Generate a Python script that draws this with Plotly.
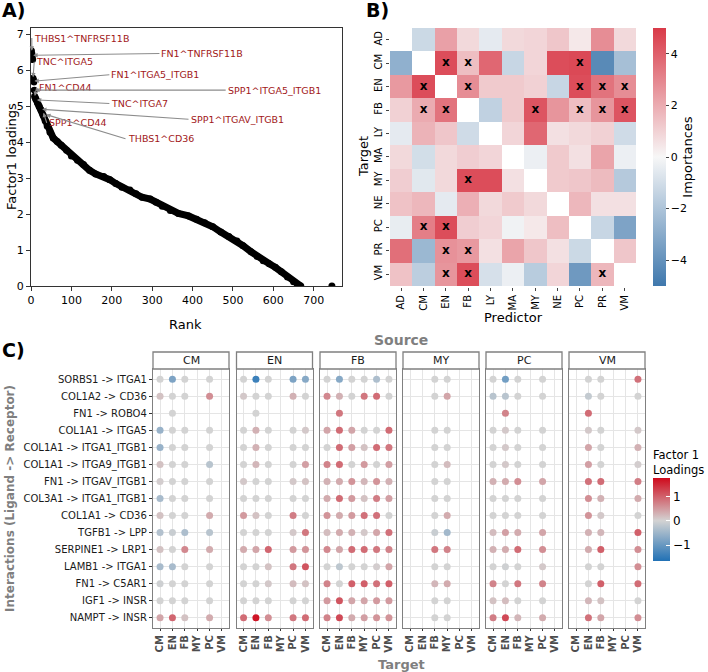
import plotly.graph_objects as go

W, H = 708, 672
FONT = "DejaVu Sans"


def px(x):
    return x / W


def py(y):
    return 1 - y / H


# ---------------- Panel A data ----------------
rank_top = [1, 2, 3, 4, 5, 6, 7, 8]
load_top = [6.55, 6.47, 6.38, 6.3, 5.78, 5.73, 5.68, 5.45]
rank_curve = [9, 12, 16, 20, 25, 30, 35, 40, 47, 55, 65, 75, 88, 100, 115, 130, 145, 160, 180,
              195, 210, 225, 245, 260, 275, 295, 310, 325, 345, 365, 390, 410, 430, 450, 470,
              490, 510, 525, 545, 560, 575, 590, 605, 620, 635, 650, 660, 668]
load_curve = [5.28, 5.2, 5.1, 5.0, 4.9, 4.75, 4.6, 4.45, 4.28, 4.12, 4.02, 3.92, 3.78, 3.62, 3.5,
              3.38, 3.22, 3.12, 3.05, 2.96, 2.85, 2.75, 2.67, 2.57, 2.47, 2.42, 2.33, 2.22, 2.1,
              2.02, 1.95, 1.86, 1.76, 1.65, 1.5, 1.38, 1.25, 1.12, 0.95, 0.82, 0.7, 0.62, 0.52,
              0.4, 0.25, 0.12, 0.03, 0.0]
rank_tail = [745]
load_tail = [0.0]

label_names = ["THBS1^TNFRSF11B", "FN1^TNFRSF11B", "TNC^ITGA5", "FN1^ITGA5_ITGB1", "FN1^CD44",
               "SPP1^ITGA5_ITGB1", "TNC^ITGA7", "SPP1^ITGAV_ITGB1", "SPP1^CD44", "THBS1^CD36"]
label_rank = [2, 3, 5, 6, 9, 8, 12, 25, 30, 35]
label_load = [6.52, 6.42, 5.78, 5.7, 5.26, 5.45, 5.18, 4.92, 4.85, 4.78]
# left edge (rank) and vertical centre (loading) of each label's text
label_text_rank = [2, 318, 8, 194, 14, 482, 194, 390, 39, 234]
label_text_load = [6.9, 6.47, 6.24, 5.88, 5.52, 5.45, 5.08, 4.64, 4.54, 4.1]

# ---------------- Panel B data ----------------
cell_types = ["AD", "CM", "EN", "FB", "LY", "MA", "MY", "NE", "PC", "PR", "VM"]
importances = [
    [None, -1.2, 2.3, 0.8, -0.5, 0.8, 0.9, 1.3, 0.4, 2.8, 0.8],
    [-2.8, None, 4.5, 1.5, 3.8, -1.3, 0.9, 4.5, 4.6, -4.3, -2.2],
    [2.5, 4.5, None, 2.8, 1.2, 1.2, 1.0, -1.3, 4.5, 3.5, 2.8],
    [1.0, 2.0, 3.5, None, -1.5, 1.2, 4.3, 2.6, 1.5, 2.6, 4.3],
    [-0.5, 1.8, 1.3, -1.1, None, 0.9, 3.8, 0.6, 0.8, 1.0, -1.1],
    [0.8, -1.0, 0.8, 1.1, 0.9, None, -0.3, 1.2, 0.6, 2.2, -0.3],
    [1.1, -0.6, 0.8, 4.5, 4.5, 0.6, None, 1.2, 1.3, 1.6, -1.8],
    [1.4, 1.7, -0.5, 1.9, 0.8, 1.2, 0.8, None, 1.7, 0.6, 0.6],
    [-0.4, 3.2, 4.5, 1.1, 0.9, -0.2, 0.4, 1.5, None, -1.3, -3.3],
    [3.6, -2.5, 2.7, 2.5, 0.6, 2.2, 1.3, 0.6, -1.2, None, 1.3],
    [1.4, -1.6, 2.6, 4.5, -0.9, -0.3, -1.7, 0.9, -3.7, 1.7, None],
]
significant = [
    [0, 0, 0, 0, 0, 0, 0, 0, 0, 0, 0],
    [0, 0, 1, 1, 0, 0, 0, 0, 1, 0, 0],
    [0, 1, 0, 1, 0, 0, 0, 0, 1, 1, 1],
    [0, 1, 1, 0, 0, 0, 1, 0, 1, 1, 1],
    [0, 0, 0, 0, 0, 0, 0, 0, 0, 0, 0],
    [0, 0, 0, 0, 0, 0, 0, 0, 0, 0, 0],
    [0, 0, 0, 1, 0, 0, 0, 0, 0, 0, 0],
    [0, 0, 0, 0, 0, 0, 0, 0, 0, 0, 0],
    [0, 1, 1, 0, 0, 0, 0, 0, 0, 0, 0],
    [0, 0, 1, 1, 0, 0, 0, 0, 0, 0, 0],
    [0, 0, 1, 1, 0, 0, 0, 0, 0, 1, 0],
]

# ---------------- Panel C data ----------------
sources = ["CM", "EN", "FB", "MY", "PC", "VM"]
targets = ["CM", "EN", "FB", "MY", "PC", "VM"]
interactions = ["SORBS1 -> ITGA1", "COL1A2 -> CD36", "FN1 -> ROBO4", "COL1A1 -> ITGA5",
                "COL1A1 -> ITGA1_ITGB1", "COL1A1 -> ITGA9_ITGB1", "FN1 -> ITGAV_ITGB1",
                "COL3A1 -> ITGA1_ITGB1", "COL1A1 -> CD36", "TGFB1 -> LPP", "SERPINE1 -> LRP1",
                "LAMB1 -> ITGA1", "FN1 -> C5AR1", "IGF1 -> INSR", "NAMPT -> INSR"]
N = None
loadings_CM = [
    [0.0, -0.8, 0.0, N, 0.0, N], [0.15, 0.0, 0.0, N, 0.6, N], [N, 0.0, N, N, N, N],
    [-0.55, 0.0, 0.0, N, 0.0, N], [-0.55, 0.0, 0.0, N, 0.0, N], [0.15, 0.0, 0.0, N, -0.25, N],
    [0.05, 0.0, 0.0, N, 0.0, N], [-0.4, 0.0, 0.0, N, 0.0, N], [0.15, 0.0, 0.0, N, 0.35, N],
    [-0.3, -0.1, -0.35, N, -0.25, N], [0.15, 0.0, 0.65, N, 0.35, N], [-0.4, -0.4, 0.0, N, 0.0, N],
    [-0.05, 0.0, 0.0, N, 0.0, N], [0.0, 0.0, 0.0, N, 0.0, N], [0.4, 0.95, 0.15, N, 0.35, N],
]
loadings_EN = [
    [0.0, -1.4, 0.0, N, -0.8, -0.7], [0.1, 0.0, 0.0, N, 0.3, 0.0], [N, 0.0, N, N, N, N],
    [0.0, 0.3, 0.0, N, 0.0, 0.1], [0.0, 0.3, 0.0, N, 0.0, 0.0], [0.0, 0.25, 0.0, N, 0.0, 0.45],
    [0.1, 0.0, 0.0, N, 0.1, 0.15], [0.0, 0.0, 0.0, N, 0.0, 0.0], [0.5, 0.15, 0.0, N, 0.75, 0.0],
    [0.0, 0.0, 0.0, N, 0.1, 0.8], [0.35, 0.4, 0.95, N, 0.5, 0.55], [0.0, 0.0, 0.15, N, 0.8, 1.1],
    [0.0, 0.0, 0.1, N, 0.2, 0.15], [0.0, 0.0, 0.0, N, 0.0, 0.0], [0.9, 1.65, 0.6, N, 0.8, 0.9],
]
loadings_FB = [
    [0.0, -0.7, 0.0, 0.0, -0.35, 0.0], [0.65, 0.3, 0.0, 0.8, 0.9, 0.0], [N, 0.8, N, N, N, N],
    [0.4, 0.9, 0.4, 0.0, 0.0, 0.9], [0.0, 0.9, 0.45, 0.15, 0.9, 0.8], [0.7, 0.9, 0.0, 0.5, 0.0, 0.45],
    [0.3, 0.35, 0.55, 0.25, 0.55, 0.3], [0.35, 0.9, 0.5, 0.15, 0.75, 0.45],
    [0.55, 0.35, 0.5, 0.85, 0.85, 0.0], [0.2, 0.35, 0.3, 0.1, 0.4, 0.85],
    [0.65, 0.4, 0.9, 0.9, 0.8, 0.7], [0.0, -0.2, 0.0, 0.0, 0.05, 0.4],
    [0.7, 0.0, 1.0, 1.0, 0.85, 1.0], [0.5, 1.1, 0.4, 0.4, 0.5, 0.5], [0.7, 1.2, 0.35, 0.45, 0.55, 0.55],
]
loadings_MY = [
    [N, N, 0.0, 0.0, N, N], [N, N, 0.0, 0.4, N, N], [N, N, N, N, N, N],
    [N, N, 0.0, 0.0, N, N], [N, N, 0.0, 0.0, N, N], [N, N, 0.0, 0.2, N, N],
    [N, N, 0.0, 0.0, N, N], [N, N, 0.0, 0.0, N, N], [N, N, 0.0, 0.35, N, N],
    [N, N, -0.1, -0.45, N, N], [N, N, 0.8, 0.7, N, N], [N, N, 0.0, 0.0, N, N],
    [N, N, 0.25, 0.35, N, N], [N, N, 0.0, 0.0, N, N], [N, N, 0.0, 0.0, N, N],
]
loadings_PC = [
    [0.0, -0.9, 0.0, N, 0.0, N], [-0.25, -0.25, 0.0, N, 0.0, N], [N, 0.7, N, N, N, N],
    [0.0, 0.1, 0.0, N, 0.0, N], [0.0, 0.1, 0.0, N, 0.0, N], [0.0, 0.1, 0.0, N, 0.0, N],
    [0.3, 0.35, 0.6, N, 0.4, N], [0.0, 0.0, 0.0, N, 0.0, N], [0.0, 0.0, 0.0, N, 0.0, N],
    [0.2, 0.45, 0.35, N, 0.4, N], [0.3, 0.35, 0.9, N, 0.6, N], [0.0, -0.05, 0.0, N, 0.1, N],
    [0.7, 0.0, 0.8, N, 0.7, N], [0.15, 0.2, 0.0, N, 0.0, N], [0.75, 1.2, 0.25, N, 0.35, N],
]
loadings_VM = [
    [N, 0.0, 0.0, N, N, 0.85], [N, -0.15, 0.0, N, N, 0.0], [N, 0.9, N, N, N, N],
    [N, 0.1, 0.0, N, N, 0.1], [N, 0.4, 0.0, N, N, 0.3], [N, 0.45, 0.0, N, N, 0.05],
    [N, 0.85, 0.9, N, N, 0.75], [N, 0.6, 0.3, N, N, 0.35], [N, 0.55, 0.1, N, N, 0.0],
    [N, 0.3, 0.25, N, N, 1.0], [N, 0.35, 1.0, N, N, 0.6], [N, 0.0, 0.0, N, N, 0.6],
    [N, 0.0, 1.0, N, N, 0.9], [N, 0.25, 0.15, N, N, 0.0], [N, 0.85, 0.4, N, N, 0.6],
]
loadings_by_source = [loadings_CM, loadings_EN, loadings_FB, loadings_MY, loadings_PC, loadings_VM]

# ---------------- Figure ----------------
fig = go.Figure()

# Panel A
fig.add_trace(go.Scatter(x=rank_top, y=load_top, mode="markers",
                         marker=dict(color="black", size=7), xaxis="x", yaxis="y",
                         showlegend=False))
fig.add_trace(go.Scatter(x=rank_curve, y=load_curve, mode="lines+markers",
                         line=dict(color="black", width=7), marker=dict(color="black", size=7),
                         xaxis="x", yaxis="y", showlegend=False))
fig.add_trace(go.Scatter(x=rank_tail, y=load_tail, mode="markers",
                         marker=dict(color="black", size=7), xaxis="x", yaxis="y",
                         showlegend=False))

annotations = []
for name, r, l, tr, tl in zip(label_names, label_rank, label_load, label_text_rank, label_text_load):
    annotations.append(dict(x=r, y=l, xref="x", yref="y", ax=tr, ay=tl, axref="x", ayref="y",
                            text=name, showarrow=True, arrowhead=2, arrowsize=0.8,
                            arrowwidth=1.1, arrowcolor="#8c8c8c", standoff=1,
                            xanchor="left", yanchor="middle",
                            font=dict(color="#a11818", size=9.5, family=FONT)))

# Panel B
fig.add_trace(go.Heatmap(z=importances, x=cell_types, y=cell_types, coloraxis="coloraxis2",
                         xaxis="x2", yaxis="y2", hoverongaps=False))
sx, sy = [], []
for i, row in enumerate(significant):
    for j, v in enumerate(row):
        if v:
            sx.append(cell_types[j])
            sy.append(cell_types[i])
fig.add_trace(go.Scatter(x=sx, y=sy, mode="text", text=["<b>x</b>"] * len(sx),
                         textfont=dict(color="black", size=12, family=FONT),
                         xaxis="x2", yaxis="y2", showlegend=False))

# Panel C
facet_left = [153, 236.5, 320, 403, 486, 569]
facet_w = 76
for k, (src, mat) in enumerate(zip(sources, loadings_by_source)):
    xs, ys, cs = [], [], []
    for i, row in enumerate(mat):
        for j, v in enumerate(row):
            if v is not None:
                xs.append(targets[j])
                ys.append(interactions[i])
                cs.append(v)
    ax_id = k + 3
    fig.add_trace(go.Scatter(x=xs, y=ys, mode="markers",
                             marker=dict(color=cs, coloraxis="coloraxis", size=7),
                             xaxis=f"x{ax_id}", yaxis=f"y{ax_id}", showlegend=False))

layout = dict(
    width=W, height=H,
    margin=dict(l=0, r=0, t=0, b=0, autoexpand=False),
    paper_bgcolor="white", plot_bgcolor="white",
    font=dict(family=FONT, color="black"),
    showlegend=False,
    xaxis=dict(domain=[px(31), px(342)], range=[0, 770], tickvals=[0, 100, 200, 300, 400, 500, 600, 700],
               showline=True, mirror=True, linecolor="#333", linewidth=1, ticks="outside",
               ticklen=4, tickcolor="#333", showgrid=False, zeroline=False,
               tickfont=dict(size=11), anchor="y"),
    yaxis=dict(domain=[py(286), py(28)], range=[0, 7.18], tickvals=[0, 1, 2, 3, 4, 5, 6, 7],
               showline=True, mirror=True, linecolor="#333", linewidth=1, ticks="outside",
               ticklen=4, tickcolor="#333", showgrid=False, zeroline=False,
               tickfont=dict(size=11), anchor="x"),
    xaxis2=dict(domain=[px(390), px(637)], anchor="y2", tickangle=-90, ticks="outside",
                ticklen=3, tickfont=dict(size=10), showgrid=False, zeroline=False,
                showline=False, categoryorder="array", categoryarray=cell_types,
                tickmode="array", tickvals=cell_types, ticktext=cell_types),
    yaxis2=dict(domain=[py(287), py(28)], anchor="x2", tickangle=-90, ticks="outside",
                ticklen=3, tickfont=dict(size=10), showgrid=False, zeroline=False,
                showline=False, autorange="reversed", categoryorder="array",
                categoryarray=cell_types, tickmode="array", tickvals=cell_types,
                ticktext=cell_types),
    coloraxis=dict(cmin=-1.65, cmax=1.75,
                   colorscale=[[0, "#2171b5"], [1.65 / 3.4, "#d3d3d3"], [1, "#cf0a1c"]],
                   colorbar=dict(x=px(653), xanchor="left", xpad=0, ypad=0,
                                 y=py(561), yanchor="bottom",
                                 len=83, lenmode="pixels", thickness=17,
                                 outlinewidth=0, tickvals=[-1, 0, 1], ticks="inside",
                                 ticklen=4, tickcolor="white",
                                 tickfont=dict(size=12))),
    coloraxis2=dict(cmin=-5, cmax=5,
                    colorscale=[[0, "#3f78ad"], [0.5, "#f7f7f7"], [1, "#d93a48"]],
                    colorbar=dict(x=px(653), xanchor="left", xpad=0, ypad=0,
                                  y=py(286), yanchor="bottom",
                                  len=258, lenmode="pixels", thickness=13,
                                  outlinewidth=0, tickvals=[-4, -2, 0, 2, 4], ticks="outside",
                                  ticklen=3, tickfont=dict(size=11),
                                  title=dict(text="Importances", side="right",
                                             font=dict(size=13)))),
)

for k in range(6):
    ax_id = k + 3
    layout[f"xaxis{ax_id}"] = dict(
        domain=[px(facet_left[k]), px(facet_left[k] + facet_w)], anchor=f"y{ax_id}",
        categoryorder="array", categoryarray=targets, range=[-0.57, 5.57],
        tickmode="array", tickvals=targets, ticktext=targets,
        tickangle=-90, ticks="outside", ticklen=2, tickcolor="#333",
        tickfont=dict(size=10, color="#4d4d4d", weight="bold"),
        showgrid=True, gridcolor="#e5e5e5", gridwidth=1, zeroline=False,
        showline=True, mirror=True, linecolor="#808080", linewidth=1.3)
    layout[f"yaxis{ax_id}"] = dict(
        domain=[py(628), py(369)], anchor=f"x{ax_id}",
        categoryorder="array", categoryarray=list(reversed(interactions)), range=[-0.6, 14.6],
        tickmode="array", tickvals=interactions, ticktext=interactions,
        ticks="outside" if k == 0 else "", ticklen=3, tickcolor="#333",
        showticklabels=(k == 0), tickfont=dict(size=10, color="#1a1a1a"),
        showgrid=True, gridcolor="#e5e5e5", gridwidth=1, zeroline=False,
        showline=True, mirror=True, linecolor="#808080", linewidth=1.3)

shapes = []
for k, src in enumerate(sources):
    shapes.append(dict(type="rect", xref="paper", yref="paper",
                       x0=px(facet_left[k]), x1=px(facet_left[k] + facet_w),
                       y0=py(369), y1=py(352), fillcolor="white",
                       line=dict(color="#808080", width=1.3)))
    annotations.append(dict(x=px(facet_left[k] + facet_w / 2), y=py(360.5), xref="paper",
                            yref="paper", text=src, showarrow=False,
                            font=dict(size=11, color="#1a1a1a"), xanchor="center",
                            yanchor="middle"))

grey = "#7f7f7f"
text_ann = [
    dict(x=px(0), y=py(10), text="<b>A)</b>", font=dict(size=19), xanchor="left"),
    dict(x=px(364), y=py(10), text="<b>B)</b>", font=dict(size=19), xanchor="left"),
    dict(x=px(0), y=py(350), text="<b>C)</b>", font=dict(size=19), xanchor="left"),
    dict(x=px(12), y=py(157), text="Factor1 loadings", font=dict(size=13), textangle=-90),
    dict(x=px(185), y=py(325), text="Rank", font=dict(size=13)),
    dict(x=px(364), y=py(157), text="Target", font=dict(size=13), textangle=-90),
    dict(x=px(513), y=py(317), text="Predictor", font=dict(size=13)),
    dict(x=px(651), y=py(462), text="Factor 1<br>Loadings", font=dict(size=11.5),
         xanchor="left", align="left"),
    dict(x=px(401), y=py(340), text="<b>Source</b>", font=dict(size=14, color=grey)),
    dict(x=px(401), y=py(664), text="<b>Target</b>", font=dict(size=13, color=grey)),
    dict(x=px(10), y=py(499), text="<b>Interactions (Ligand -> Receptor)</b>",
         font=dict(size=12, color=grey), textangle=-90),
]
for a in text_ann:
    a.update(xref="paper", yref="paper", showarrow=False, yanchor="middle")
    a.setdefault("xanchor", "center")
    annotations.append(a)

layout["annotations"] = annotations
layout["shapes"] = shapes
fig.update_layout(**layout)

fig.write_html("out.html", config={"displayModeBar": False},
               post_script="document.body.style.margin='0px';")
